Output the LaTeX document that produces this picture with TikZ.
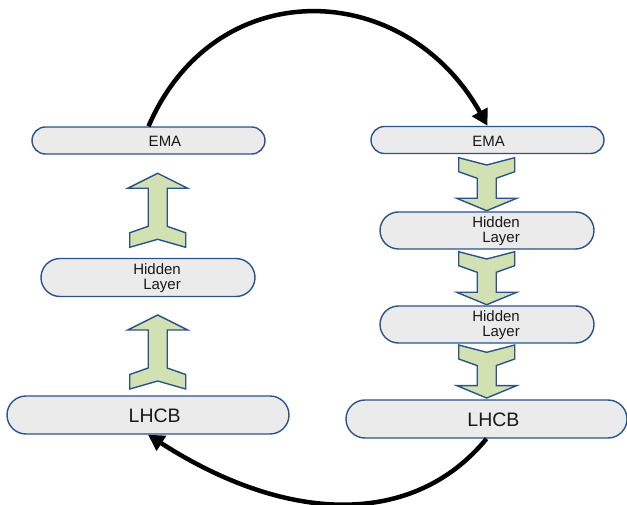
\documentclass[tikz,border=0pt]{standalone}
\usepackage{fontspec}
\setmainfont{Liberation Sans}
\usetikzlibrary{shapes.misc,arrows.meta}
\definecolor{rimblue}{RGB}{44,82,140}
\definecolor{boxgray}{RGB}{235,235,235}
\definecolor{leafgreen}{RGB}{210,225,178}
\tikzset{
  layerbox/.style={rounded rectangle, draw=rimblue, fill=boxgray, line width=1.4pt, inner sep=0pt},
  layertext/.style={text=black!90, align=right, inner sep=0pt, font=\fontsize{15}{15.5}\selectfont},
  bigtext/.style={text=black!90, inner sep=0pt, font=\fontsize{19.5}{20}\selectfont},
  fatarrow/.style={draw=rimblue, fill=leafgreen, line width=1.4pt, line join=miter},
  loopline/.style={line width=4.5pt, -{Triangle[length=16pt,width=17pt]}}
}
\def\fatup(#1,#2){\draw[fatarrow] (#1,#2) -- ++(30,15) -- ++(-20.5,0) -- ++(0,38) -- ++(18.5,6.5) -- ++(0,14.5)
  -- (#1,#2+66) -- (#1-28,#2+74) -- ++(0,-14.5) -- ++(18.5,-6.5) -- ++(0,-38) -- ++(-20.5,0) -- cycle;}
\def\fatdown(#1,#2){\draw[fatarrow] (#1-28,#2) -- (#1,#2+7.3) -- (#1+28,#2) -- ++(0,14) -- ++(-18.5,6.6) -- ++(0,20)
  -- ++(20.5,0) -- (#1,#2+53) -- (#1-30,#2+40.6) -- ++(20.5,0) -- ++(0,-20) -- ++(-18.5,-6.6) -- cycle;}

\begin{document}
\begin{tikzpicture}[x=1pt,y=-1pt]
		%%%%% START %%%%%
		\useasboundingbox (0,0) rectangle (627,505);

		% block arrows
		\fatup(157.7,173.3)
		\fatup(157.7,315)
		\fatdown(486.7,157.7)
		\fatdown(486.7,251.7)
		\fatdown(486.7,345)

		% left column
		\node[layerbox, minimum width=233pt, minimum height=27pt] (lema) at (148.5,140.5) {};
		\node[layerbox, minimum width=214pt, minimum height=38pt] (lhid) at (148,277.5) {};
		\node[layerbox, minimum width=282pt, minimum height=38pt] (llhcb) at (148,415) {};

		% right column
		\node[layerbox, minimum width=233pt, minimum height=27pt] (rema) at (487.5,140) {};
		\node[layerbox, minimum width=214pt, minimum height=37pt] (rhidA) at (487,230.5) {};
		\node[layerbox, minimum width=214pt, minimum height=37pt] (rhidB) at (487,324.5) {};
		\node[layerbox, minimum width=281pt, minimum height=38pt] (rlhcb) at (486.5,419) {};

		% texts
		\node[layertext] (lema-t) at (165,141) {EMA};
		\node[layertext, anchor=east] (lhid-t) at (181,278) {Hidden\\Layer};
		\node[bigtext] (llhcb-t) at (154.7,416) {LHCB};
		\node[layertext] (rema-t) at (488.7,141) {EMA};
		\node[layertext, anchor=east] (rhidA-t) at (520,231) {Hidden\\Layer};
		\node[layertext, anchor=east] (rhidB-t) at (520,325) {Hidden\\Layer};
		\node[bigtext] (rlhcb-t) at (493.5,420) {LHCB};

		% the two loops
		\draw[loopline] (lema.north) .. controls (215,-28) and (405,-22) .. (rema.north);
		\draw[loopline] (rlhcb.south) .. controls (415,526) and (290,526) .. (llhcb.south);

		%%%%% END %%%%%
	\end{tikzpicture}
\end{document}
